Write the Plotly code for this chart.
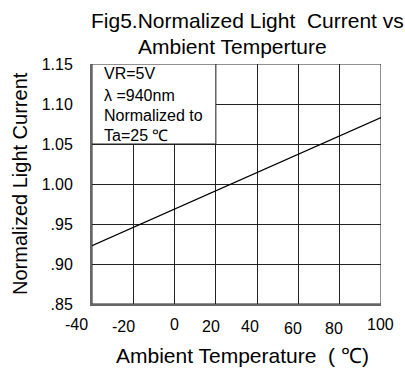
import plotly.graph_objects as go

temps = [-40, 100]
current = [0.923, 1.083]

x_ticks = [-40, -20, 0, 20, 40, 60, 80, 100]
x_tick_labels = ["-40", "-20", "0", "20", "40", "60", "80", "100"]
x_tick_shift = [-15.5, -10, 0, -4.5, -7, -5, -6, -0.5]
x_tick_yshift = [0, -2, 0, -2, -2, -4, -4, 0]
y_ticks = [0.85, 0.90, 0.95, 1.00, 1.05, 1.10, 1.15]
y_tick_labels = [".85", ".90", ".95", "1.00", "1.05", "1.10", "1.15"]

box_lines = ["VR=5V", "λ =940nm", "Normalized to", "Ta=25 ℃"]

FONT = "Liberation Sans, Arial, sans-serif"
NB = "\u00a0"

fig = go.Figure()
fig.add_trace(go.Scatter(x=temps, y=current, mode="lines",
                         line=dict(color="black", width=1.2), showlegend=False,
                         hoverinfo="skip"))

fig.update_layout(
    width=405, height=369,
    margin=dict(l=92, r=24, t=64, b=65),
    paper_bgcolor="white", plot_bgcolor="white",
    font=dict(family=FONT, color="black", size=16),
    xaxis=dict(range=[-40, 100], tickvals=x_ticks, showticklabels=False,
               showgrid=True, gridcolor="#222", gridwidth=1, zeroline=False,
               showline=True, linecolor="#666", linewidth=2, mirror=False,
               ticks=""),
    yaxis=dict(range=[0.85, 1.15], tickvals=y_ticks, ticktext=y_tick_labels,
               showgrid=True, gridcolor="#222", gridwidth=1, zeroline=False,
               showline=True, linecolor="#666", linewidth=2, ticks="",
               ticklabelstandoff=14, tickfont=dict(size=16)),
)

# top and right border
fig.add_shape(type="rect", xref="x", yref="y", x0=-40, x1=100, y0=0.85, y1=1.15,
              line=dict(color="#222", width=1), layer="below")

# text box
fig.add_shape(type="rect", xref="x", yref="y", x0=-40, x1=20, y0=1.05, y1=1.15,
              fillcolor="white", line=dict(color="#222", width=1), layer="above")

box_y = [74, 95, 115, 135]
for txt, yy in zip(box_lines, box_y):
    fig.add_annotation(text=txt, xref="paper", yref="paper",
                       x=(102 - 92) / 289, y=1 - (yy - 64) / 240,
                       xanchor="left", yanchor="middle", showarrow=False,
                       font=dict(size=16))

for xv, lab, dx, dy in zip(x_ticks, x_tick_labels, x_tick_shift, x_tick_yshift):
    fig.add_annotation(text=lab, x=xv, xref="x", yref="paper", y=0,
                       yanchor="top", xanchor="center", showarrow=False,
                       xshift=dx, yshift=-10 + dy, font=dict(size=16))

fig.add_annotation(text="Normalized Light Current", xref="paper", yref="paper",
                   x=(20 - 92) / 289, y=0.5, xanchor="center", yanchor="middle",
                   textangle=-90, showarrow=False, font=dict(size=20))

fig.add_annotation(text="Ambient Temperature" + NB + NB + "(" + NB + "℃)",
                   xref="paper", yref="paper",
                   x=(242 - 92) / 289, y=-(355 - 304) / 240, xanchor="center",
                   yanchor="middle", showarrow=False, font=dict(size=21))

fig.add_annotation(text="Fig5.Normalized Light" + NB + NB + "Current vs", xref="paper",
                   yref="paper", x=(89 - 92) / 289, y=1 + (64 - 21) / 240,
                   xanchor="left", yanchor="middle", showarrow=False,
                   font=dict(size=21))
fig.add_annotation(text="Ambient Temperture", xref="paper",
                   yref="paper", x=(232 - 92) / 289, y=1 + (64 - 46) / 240,
                   xanchor="center", yanchor="middle", showarrow=False,
                   font=dict(size=21))

fig.write_html("out.html")
